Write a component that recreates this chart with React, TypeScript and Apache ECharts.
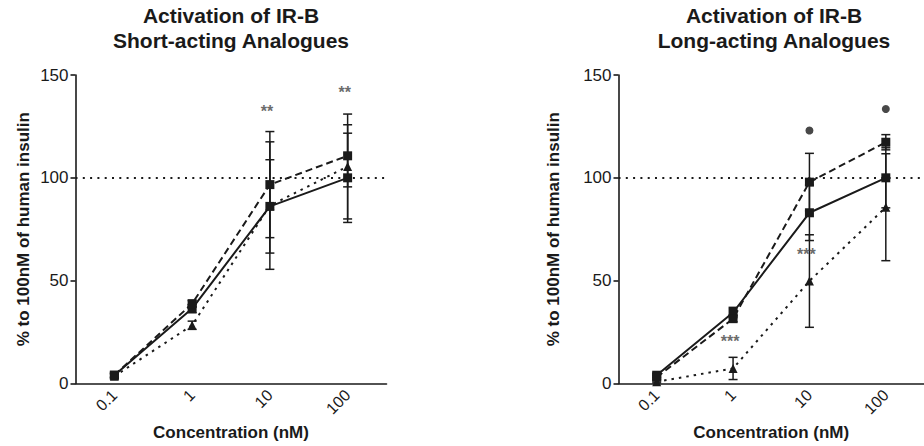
import React, { useEffect, useRef } from "react";
import * as echarts from "echarts";

const categories = ["0.1", "1", "10", "100"];
const yTicks = [0, 50, 100, 150];

// Short-acting panel
const shortSolid = [4, 36.4, 86.1, 100];
const shortSolidErr = [1, 2, 22.7, 21.7];
const shortDashed = [4, 38.8, 96.7, 110.7];
const shortDashedErr = [1, 1.5, 25.8, 15.1];
const shortDotted = [3.5, 28.3, 86.5, 105.5];
const shortDottedErr = [1, 2, 31, 25.5];
const shortStars: [string, number, string][] = [["10", 133, "**"], ["100", 142.5, "**"]];

// Long-acting panel
const longSolid = [4, 34.5, 83, 100];
const longSolidErr = [1, 2.5, 13.5, 14.6];
const longDashed = [3, 31.5, 97.9, 117.3];
const longDashedErr = [1, 1.5, 14, 3.7];
const longDotted = [0.8, 7.3, 49.8, 85.7];
const longDottedErr = [0.5, 5.4, 22.5, 26];
const longStars: [string, number, string][] = [["1", 21.4, "***"], ["10", 63.6, "***"]];
const longDots: [string, number][] = [["10", 123], ["100", 133.5]];

const referenceLevel = 100;

const FONT = "Liberation Sans, Arial, Helvetica, sans-serif";
const INK = "#1a1a1a";

export default function App() {
  const ref = useRef<HTMLDivElement>(null);
  useEffect(() => {
    if (!ref.current) return;
    const chart = echarts.init(ref.current, null, { renderer: "svg" });

    const grids = [
      { left: 75.5, width: 311, top: 75, bottom: 62.5 },
      { left: 618.5, width: 311, top: 75, bottom: 62.5 },
    ];

    const mkX = (gi: number) => ({
      type: "category",
      gridIndex: gi,
      data: categories,
      boundaryGap: true,
      name: "Concentration (nM)",
      nameLocation: "middle",
      nameGap: 37,
      nameTextStyle: { fontFamily: FONT, fontSize: 17, fontWeight: "bold", color: INK },
      axisLine: { lineStyle: { color: INK, width: 1.6 } },
      axisTick: { alignWithLabel: true, length: 5, lineStyle: { color: INK, width: 1.6 } },
      axisLabel: { rotate: 45, margin: 9, fontFamily: FONT, fontSize: 16, color: INK },
      splitLine: { show: false },
    });
    const mkY = (gi: number, gap: number) => ({
      type: "value",
      gridIndex: gi,
      min: yTicks[0],
      max: yTicks[yTicks.length - 1],
      interval: 50,
      name: "% to 100nM of human insulin",
      nameLocation: "middle",
      nameGap: gap,
      nameRotate: 90,
      nameTextStyle: { fontFamily: FONT, fontSize: 17, fontWeight: "bold", color: INK },
      axisLine: { show: true, lineStyle: { color: INK, width: 1.6 } },
      axisTick: { show: true, length: 5, lineStyle: { color: INK, width: 1.6 } },
      axisLabel: { margin: 7, fontFamily: FONT, fontSize: 17, color: INK },
      splitLine: { show: false },
    });

    const styles = [
      { type: "solid", symbol: "rect" },
      { type: [7, 4], symbol: "rect" },
      { type: [2.5, 5], symbol: "triangle" },
    ];

    const lineSeries = (gi: number, vals: number[], si: number, withRef: boolean) => ({
      type: "line",
      xAxisIndex: gi,
      yAxisIndex: gi,
      data: vals,
      symbol: styles[si].symbol,
      symbolSize: 9,
      itemStyle: { color: INK },
      lineStyle: { color: INK, width: 2, type: styles[si].type },
      z: 5,
      markLine: withRef
        ? {
            silent: true,
            symbol: "none",
            label: { show: false },
            lineStyle: { color: INK, width: 2, type: [2, 5.3] },
            data: [{ yAxis: referenceLevel }],
          }
        : undefined,
    });

    const errSeries = (gi: number, vals: number[], errs: number[]) => ({
      type: "custom",
      xAxisIndex: gi,
      yAxisIndex: gi,
      z: 4,
      data: vals.map((v, i) => [i, v, errs[i]]),
      renderItem: (params: any, api: any) => {
        const x = api.value(0);
        const v = api.value(1);
        const e = api.value(2);
        const top = api.coord([x, v + e]);
        const bot = api.coord([x, v - e]);
        const hw = 4.5;
        const st = { stroke: INK, lineWidth: 1.5 };
        return {
          type: "group",
          children: [
            { type: "line", shape: { x1: top[0], y1: top[1], x2: bot[0], y2: bot[1] }, style: st },
            { type: "line", shape: { x1: top[0] - hw, y1: top[1], x2: top[0] + hw, y2: top[1] }, style: st },
            { type: "line", shape: { x1: bot[0] - hw, y1: bot[1], x2: bot[0] + hw, y2: bot[1] }, style: st },
          ],
        };
      },
    });

    const starSeries = (gi: number, pts: [string, number, string][]) => ({
      type: "scatter",
      xAxisIndex: gi,
      yAxisIndex: gi,
      symbol: "circle",
      symbolSize: 2,
      itemStyle: { color: "rgba(0,0,0,0)" },
      data: pts.map((p) => ({ value: [p[0], p[1]], name: p[2] })),
      label: {
        show: true,
        position: "inside",
        offset: [-3, 2],
        formatter: (p: any) => p.name,
        fontFamily: FONT,
        fontSize: 16,
        fontWeight: "bold",
        color: "#444",
      },
      z: 6,
    });

    const titleStyle = {
      textAlign: "center",
      fontFamily: FONT,
      fontSize: 21,
      fontWeight: "bold",
      lineHeight: 25,
      fill: INK,
    };

    const option: any = {
      animation: false,
      backgroundColor: "#ffffff",
      grid: grids,
      xAxis: [mkX(0), mkX(1)],
      yAxis: [mkY(0, 44), mkY(1, 57)],
      graphic: [
        {
          type: "text",
          x: 231,
          y: 3,
          style: { text: "Activation of IR-B\nShort-acting Analogues", ...titleStyle },
        },
        {
          type: "text",
          x: 774,
          y: 3,
          style: { text: "Activation of IR-B\nLong-acting Analogues", ...titleStyle },
        },
      ],
      series: [
        errSeries(0, shortSolid, shortSolidErr),
        errSeries(0, shortDashed, shortDashedErr),
        errSeries(0, shortDotted, shortDottedErr),
        lineSeries(0, shortDotted, 2, true),
        lineSeries(0, shortSolid, 0, false),
        lineSeries(0, shortDashed, 1, false),
        starSeries(0, shortStars),
        errSeries(1, longSolid, longSolidErr),
        errSeries(1, longDashed, longDashedErr),
        errSeries(1, longDotted, longDottedErr),
        lineSeries(1, longDotted, 2, true),
        lineSeries(1, longSolid, 0, false),
        lineSeries(1, longDashed, 1, false),
        starSeries(1, longStars),
        {
          type: "scatter",
          xAxisIndex: 1,
          yAxisIndex: 1,
          symbol: "circle",
          symbolSize: 8,
          itemStyle: { color: INK },
          data: longDots.map((d) => ({ value: [d[0], d[1]] })),
          z: 6,
        },
      ],
    };
    chart.setOption(option);
    return () => chart.dispose();
  }, []);

  return (
    <div
      ref={ref}
      style={{ position: "absolute", left: 0, top: 0, width: 924, height: 446, overflow: "hidden" }}
    />
  );
}
